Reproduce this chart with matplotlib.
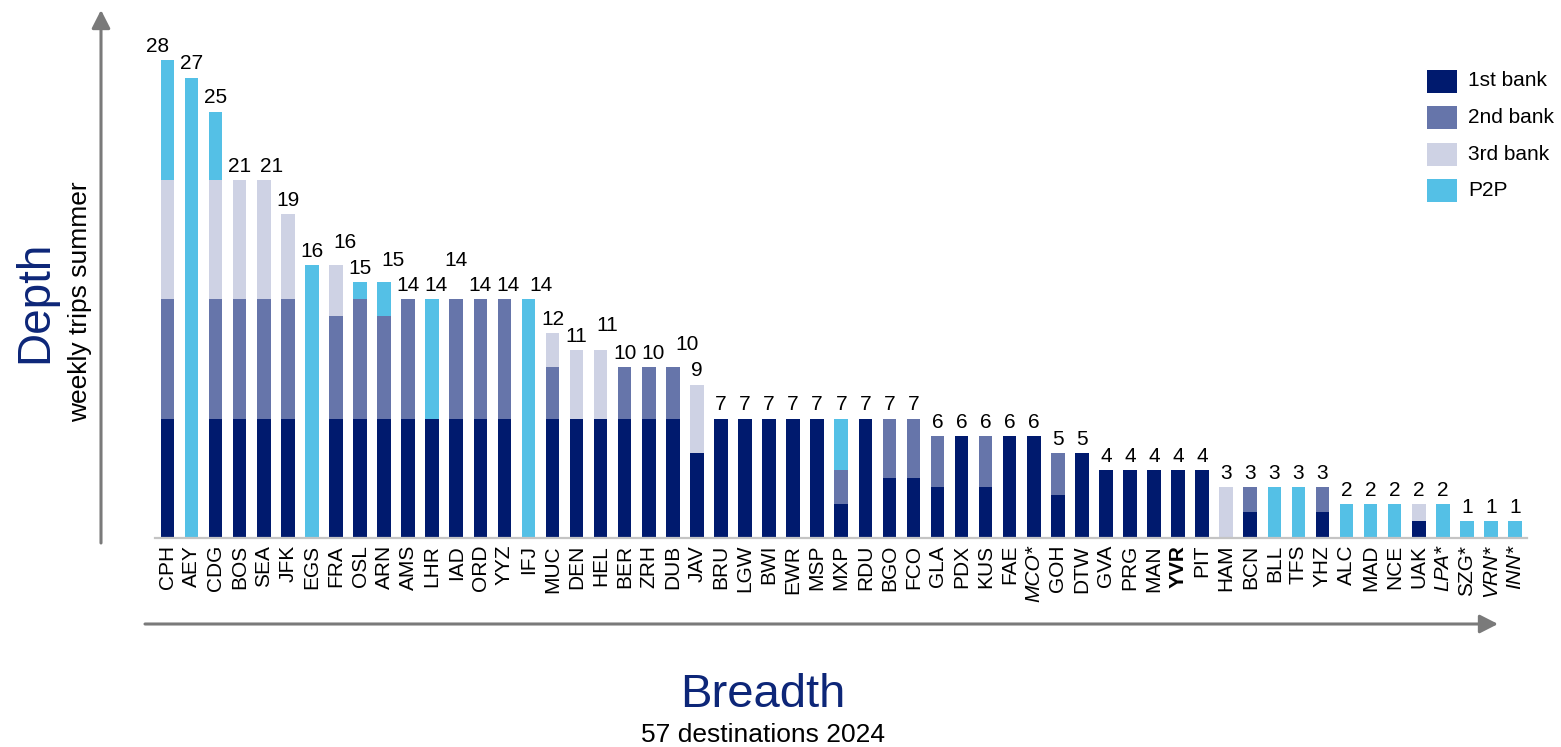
import numpy as np
import matplotlib
matplotlib.use('Agg')
import matplotlib.pyplot as plt
from matplotlib.patches import Rectangle

plt.rcParams['font.family'] = ['Liberation Sans', 'DejaVu Sans']

# destinations, sorted by weekly frequency
airports = ['CPH', 'AEY', 'CDG', 'BOS', 'SEA', 'JFK', 'EGS', 'FRA', 'OSL', 'ARN',
            'AMS', 'LHR', 'IAD', 'ORD', 'YYZ', 'IFJ', 'MUC', 'DEN', 'HEL', 'BER',
            'ZRH', 'DUB', 'JAV', 'BRU', 'LGW', 'BWI', 'EWR', 'MSP', 'MXP', 'RDU',
            'BGO', 'FCO', 'GLA', 'PDX', 'KUS', 'FAE', 'MCO*', 'GOH', 'DTW', 'GVA',
            'PRG', 'MAN', 'YVR', 'PIT', 'HAM', 'BCN', 'BLL', 'TFS', 'YHZ', 'ALC',
            'MAD', 'NCE', 'UAK', 'LPA*', 'SZG*', 'VRN*', 'INN*']

first_bank = [7, 0, 7, 7, 7, 7, 0, 7, 7, 7,
              7, 7, 7, 7, 7, 0, 7, 7, 7, 7,
              7, 7, 5, 7, 7, 7, 7, 7, 2, 7,
              3.5, 3.5, 3, 6, 3, 6, 6, 2.5, 5, 4,
              4, 4, 4, 4, 0, 1.5, 0, 0, 1.5, 0,
              0, 0, 1, 0, 0, 0, 0]
second_bank = [7, 0, 7, 7, 7, 7, 0, 6, 7, 6,
               7, 0, 7, 7, 7, 0, 3, 0, 0, 3,
               3, 3, 0, 0, 0, 0, 0, 0, 2, 0,
               3.5, 3.5, 3, 0, 3, 0, 0, 2.5, 0, 0,
               0, 0, 0, 0, 0, 1.5, 0, 0, 1.5, 0,
               0, 0, 0, 0, 0, 0, 0]
third_bank = [7, 0, 7, 7, 7, 5, 0, 3, 0, 0,
              0, 0, 0, 0, 0, 0, 2, 4, 4, 0,
              0, 0, 4, 0, 0, 0, 0, 0, 0, 0,
              0, 0, 0, 0, 0, 0, 0, 0, 0, 0,
              0, 0, 0, 0, 3, 0, 0, 0, 0, 0,
              0, 0, 1, 0, 0, 0, 0]
p2p = [7, 27, 4, 0, 0, 0, 16, 0, 1, 2,
       0, 7, 0, 0, 0, 14, 0, 0, 0, 0,
       0, 0, 0, 0, 0, 0, 0, 0, 3, 0,
       0, 0, 0, 0, 0, 0, 0, 0, 0, 0,
       0, 0, 0, 0, 0, 0, 3, 3, 0, 2,
       2, 2, 0, 2, 1, 1, 1]

series_names = ['1st bank', '2nd bank', '3rd bank', 'P2P']
colors = ['#001a6e', '#6675aa', '#ced2e4', '#54c0e6']
navy = '#0d2678'
arrow_grey = '#7a7a7a'

italic_names = {'MCO*', 'LPA*', 'VRN*', 'INN*'}
bold_names = {'YVR'}
# a few value labels sit a bit off their bar (pixels right, pixels up)
label_nudge = {'CPH': (-10, 0), 'SEA': (8, 0), 'FRA': (9, 9), 'ARN': (9, 8),
               'LHR': (4, 0), 'IAD': (0, 25), 'YYZ': (4, 0), 'IFJ': (13, 0),
               'HEL': (7, 11), 'ZRH': (4, 0), 'DUB': (14, 9)}

W, H = 1561, 747
fig = plt.figure(figsize=(W / 100, H / 100), dpi=100)
ax = fig.add_axes([155 / W, (H - 538) / H, 1372 / W, 498 / H])

x = np.arange(len(airports))
stack = [np.array(first_bank), np.array(second_bank), np.array(third_bank), np.array(p2p)]
bottom = np.zeros(len(airports))
for vals, col, name in zip(stack, colors, series_names):
    ax.bar(x, vals, bottom=bottom, width=0.565, color=col, linewidth=0, label=name)
    bottom += vals

for i, total in enumerate(bottom):
    dx, dy = label_nudge.get(airports[i], (0, 0))
    ax.annotate(f'{int(round(total))}', xy=(i, total), xytext=(dx * 0.72, 3 + dy * 0.72),
                textcoords='offset points', ha='center', va='bottom', fontsize=15)

ax.set_xlim(-0.52, 56.5)
ax.set_ylim(0, 29.2)
ax.set_xticks(x)
ax.set_xticklabels(airports, rotation=90, fontsize=15)
for lab in ax.get_xticklabels():
    if lab.get_text() in italic_names:
        lab.set_fontstyle('italic')
    if lab.get_text() in bold_names:
        lab.set_fontweight('bold')
ax.tick_params(axis='x', length=0, pad=5)
ax.set_yticks([])
for side in ['top', 'right', 'left']:
    ax.spines[side].set_visible(False)
ax.spines['bottom'].set_color('#c4c4c4')
ax.spines['bottom'].set_linewidth(1.6)

# legend drawn by hand in pixel space
for k, (name, col) in enumerate(zip(series_names, colors)):
    yc = H - (81 + k * 36.5)
    fig.add_artist(Rectangle((1427, yc - 11.5), 30, 23, transform=None,
                             facecolor=col, edgecolor='none'))
    fig.text(1468 / W, yc / H, name, fontsize=15, va='center', ha='left')

# depth / breadth arrows
arrow_style = dict(arrowstyle='-|>,head_length=1.1,head_width=0.56', mutation_scale=10,
                   color=arrow_grey, lw=2.2, shrinkA=0, shrinkB=0)
fig.add_artist(plt.Annotation('', xy=(101, H - 10), xytext=(101, H - 543),
                              xycoords='figure pixels', textcoords='figure pixels',
                              arrowprops=arrow_style))
fig.add_artist(plt.Annotation('', xy=(1498, H - 624), xytext=(145, H - 624),
                              xycoords='figure pixels', textcoords='figure pixels',
                              arrowprops=arrow_style))

fig.text(35 / W, (H - 302) / H, 'Depth', rotation=90, fontsize=33, color=navy,
         ha='center', va='center')
fig.text(80 / W, (H - 302) / H, 'weekly trips summer', rotation=90, fontsize=19,
         ha='center', va='center')
fig.text(763 / W, 40 / H, 'Breadth', fontsize=34, color=navy, ha='center', va='baseline')
fig.text(763 / W, 5 / H, '57 destinations 2024', fontsize=19, ha='center', va='baseline')

fig.savefig('out.png', dpi=100)
